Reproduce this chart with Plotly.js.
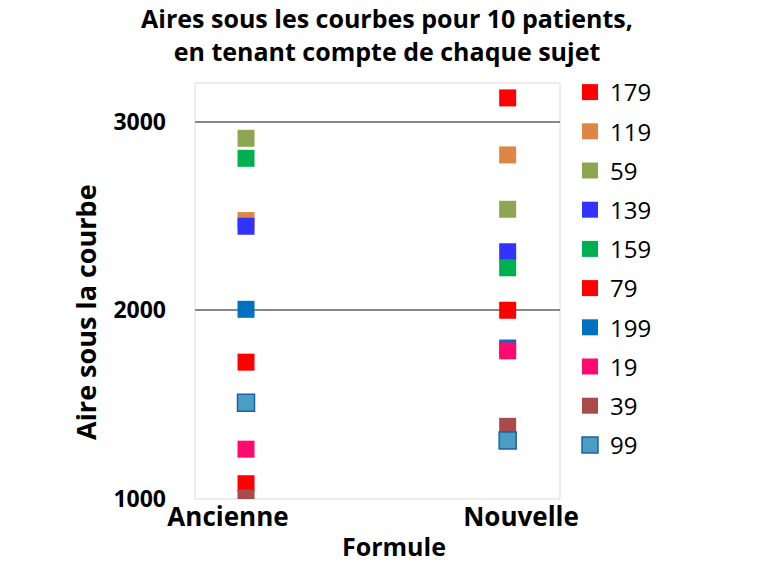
<!DOCTYPE html>
<html>
<head>
<meta charset="utf-8">
<script src="https://cdn.plot.ly/plotly-3.0.1.min.js"></script>
<style>html,body{margin:0;padding:0;background:#fff;}#chart{width:775px;height:581px;}</style>
</head>
<body>
<div id="chart"></div>
<script>
// Data
const formules = ["Ancienne", "Nouvelle"];
const formulePos = [0, 1];
const patients = ["179", "119", "59", "139", "159", "79", "199", "19", "39", "99"];
const aireAncienne = [1081, 2475, 2911, 2445, 2805, 1725, 2005, 1264, 1005, 1510];
const aireNouvelle = [3125, 2823, 2535, 2310, 2225, 2000, 1800, 1785, 1385, 1310];
const yTicks = [1000, 2000, 3000];

// Styles
const colors = ["#FF0000", "#DE8646", "#8EA652", "#3333FF", "#00B050", "#FF0000", "#0070C0", "#FF0A6E", "#A94B4B", "#4A9EC2"];
const borders = [null, null, null, null, null, null, null, null, null, "#1F5FA6"];

const FONT = "'Open Sans', Lato, sans-serif";

const traces = patients.map((p, i) => ({
  type: "scatter",
  mode: "markers",
  name: p,
  legendgroup: "g" + i,
  x: formulePos,
  y: [aireAncienne[i], aireNouvelle[i]],
  marker: {
    symbol: "square",
    size: 17,
    color: colors[i],
    line: borders[i] ? {color: borders[i], width: 1.5} : {width: 0}
  },
  hoverinfo: "name+y"
}));

const layout = {
  width: 775,
  height: 581,
  paper_bgcolor: "#fff",
  plot_bgcolor: "#fff",
  margin: {l: 195, r: 215, t: 83, b: 82},
  font: {family: FONT, color: "#000"},
  title: {
    text: "<b>Aires sous les courbes pour 10 patients,<br>en tenant compte de chaque sujet</b>",
    font: {family: FONT, size: 25, color: "#000"},
    x: 387 / 775, xref: "container", xanchor: "center",
    y: 0.951, yref: "container", yanchor: "top"
  },
  xaxis: {
    type: "linear",
    range: [-0.195, 1.2],
    tickvals: [-0.069, 1.051],
    ticktext: formules.map(f => "<b>" + f + "</b>"),
    tickfont: {family: FONT, size: 26, color: "#000"},
    showgrid: false,
    zeroline: false,
    showline: false,
    ticks: "",
    ticklabelstandoff: 0,
    fixedrange: true
  },
  yaxis: {
    range: [1000, 3204],
    tickvals: yTicks,
    ticktext: yTicks.map(v => "<b>" + v + "</b>"),
    tickfont: {family: FONT, size: 23, color: "#000"},
    showgrid: true,
    gridcolor: "#888888",
    gridwidth: 2,
    zeroline: false,
    showline: false,
    ticks: "",
    ticklabelstandoff: 28,
    automargin: false,
    fixedrange: true
  },
  shapes: [{
    type: "rect", xref: "paper", yref: "paper", x0: 0, x1: 1, y0: 0, y1: 1,
    line: {color: "#dcdcdc", width: 1}, layer: "below"
  }],
  annotations: [{
    text: "<b>Formule</b>",
    xref: "paper", yref: "paper",
    x: (394 - 195) / 365, y: (499 - 546) / 416,
    xanchor: "center", yanchor: "middle",
    showarrow: false,
    font: {family: FONT, size: 25, color: "#000"}
  }, {
    text: "<b>Aire sous la courbe</b>",
    xref: "paper", yref: "paper",
    x: (85 - 195) / 365, y: (499 - 312) / 416,
    xanchor: "center", yanchor: "middle",
    textangle: -90,
    showarrow: false,
    font: {family: FONT, size: 27, color: "#000"}
  }],
  showlegend: true,
  legend: {
    xref: "container", yref: "container",
    x: 570 / 775, xanchor: "left",
    y: 1 - 70 / 581, yanchor: "top",
    maxheight: 560,
    font: {family: FONT, size: 24, color: "#000"},
    tracegroupgap: 5,
    traceorder: "grouped",
    bgcolor: "rgba(0,0,0,0)",
    borderwidth: 0
  }
};

Plotly.newPlot("chart", traces, layout, {displayModeBar: false, staticPlot: true});
</script>
</body>
</html>
